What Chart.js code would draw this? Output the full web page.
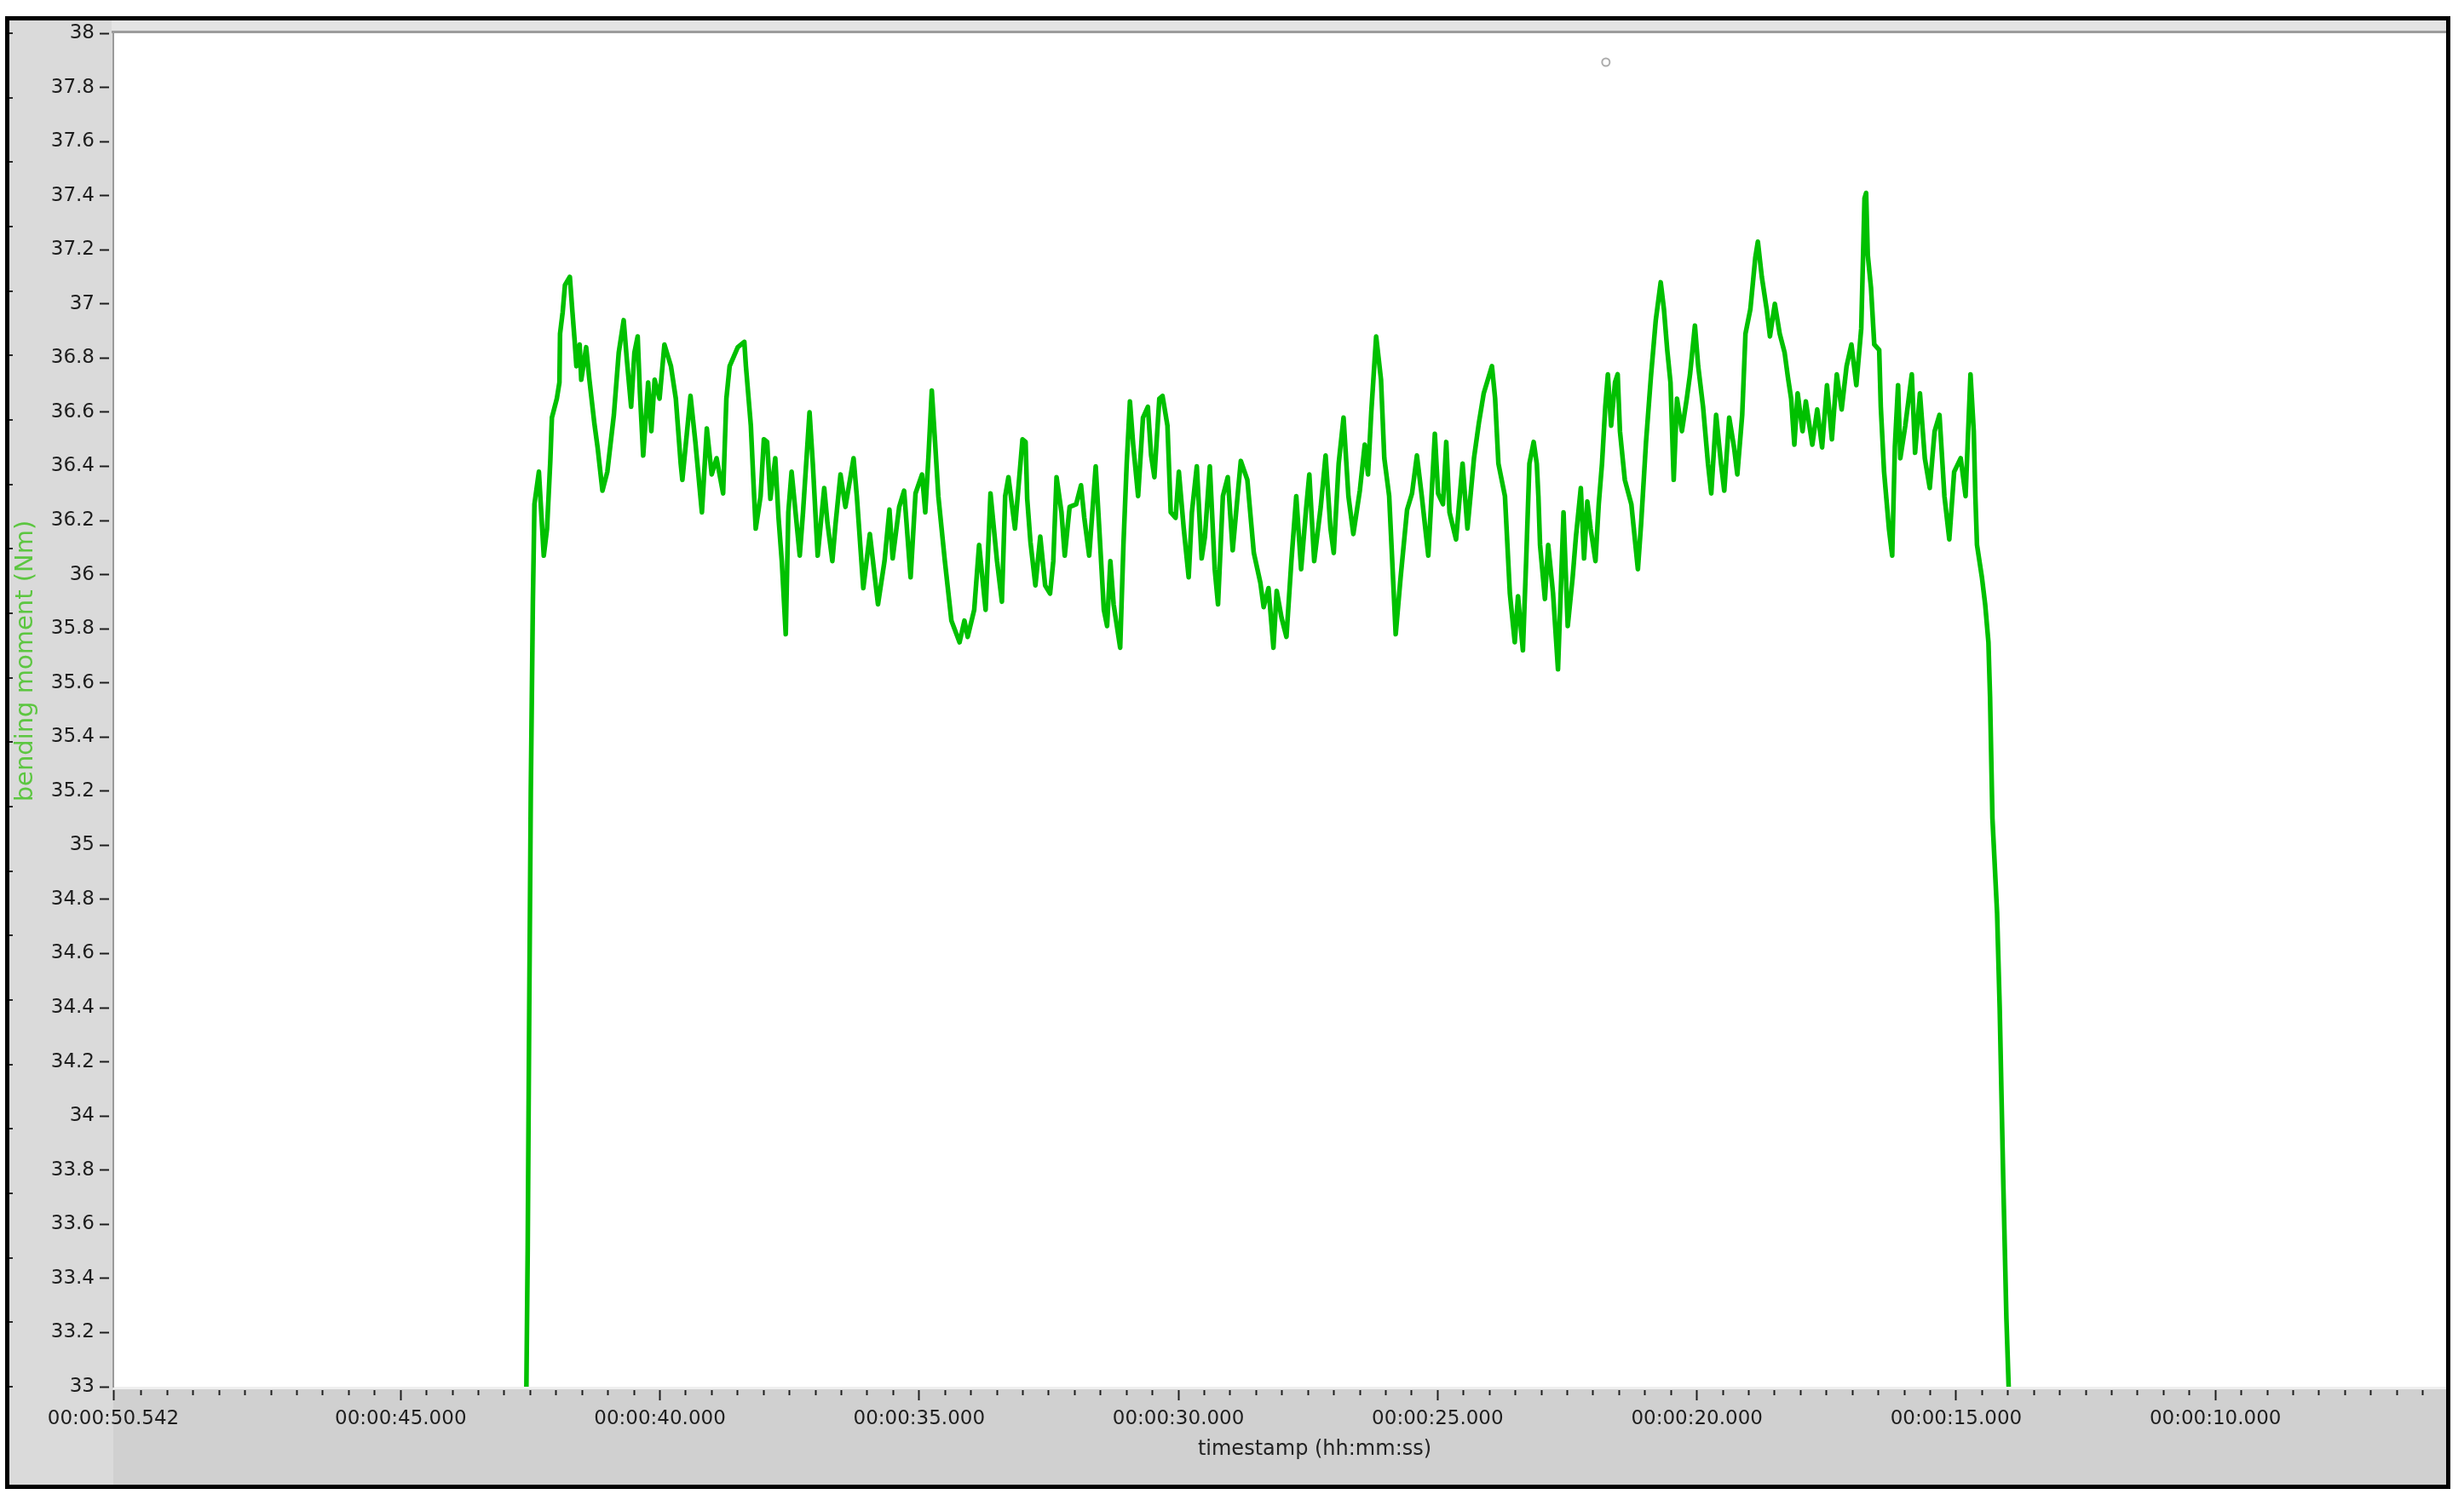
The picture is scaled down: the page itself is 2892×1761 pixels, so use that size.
<!DOCTYPE html>
<html><head><meta charset="utf-8">
<script src="https://cdn.jsdelivr.net/npm/chart.js@4.4.1/dist/chart.umd.min.js"></script>
<style>html,body{margin:0;padding:0;background:#fff;overflow:hidden}canvas{display:block}</style>
</head><body>
<canvas id="c" width="2892" height="1761"></canvas>
<script>
// time in seconds (hh:mm:ss axis, decreasing to the right)
const timeSec = [
42.58,42.55,42.52,42.49,42.45,42.42,
42.334,42.240,42.177,42.114,42.083,41.988,41.938,41.926,41.875,41.831,41.737,41.687,41.643,41.611,41.548,41.517,41.422,41.360,41.265,41.202,41.108,41.014,40.888,40.794,40.699,40.636,40.555,40.492,40.429,40.385,40.322,40.227,40.165,40.102,40.007,39.913,39.787,39.693,39.599,39.567,39.410,39.316,39.190,39.095,39.001,38.907,38.781,38.718,38.655,38.498,38.372,38.341,38.246,38.183,38.152,38.058,37.995,37.932,37.869,37.775,37.712,37.649,37.573,37.523,37.460,37.303,37.240,37.114,37.051,36.957,36.831,36.768,36.674,36.611,36.517,36.422,36.265,36.202,36.077,35.951,35.794,35.668,35.573,35.511,35.385,35.290,35.165,35.070,34.944,34.882,34.819,34.756,34.693,34.630,34.504,34.378,34.221,34.127,34.064,33.938,33.844,33.718,33.624,33.498,33.404,33.341,33.278,33.152,33.007,
32.947,32.916,32.853,32.758,32.664,32.570,32.475,32.413,32.350,32.255,32.192,32.098,31.972,31.878,31.815,31.721,31.595,31.532,31.438,31.375,31.312,31.249,31.123,31.060,30.997,30.935,30.872,30.777,30.683,30.589,30.526,30.463,30.368,30.306,30.211,30.148,30.054,29.991,29.897,29.802,29.740,29.645,29.551,29.488,29.394,29.299,29.236,29.142,29.048,28.953,28.859,28.796,28.670,28.545,28.419,28.356,28.262,28.167,28.104,28.010,27.916,27.821,27.727,27.633,27.538,27.475,27.381,27.255,27.161,27.067,27.004,26.909,26.815,26.721,26.626,26.501,26.406,26.343,26.280,26.186,26.092,26.029,25.935,25.809,25.714,25.589,25.494,25.400,25.306,25.180,25.054,24.991,24.897,24.834,24.771,24.645,24.519,24.425,24.299,24.205,24.111,23.953,23.891,23.828,23.702,23.607,23.513,23.450,23.356,23.293,23.230,23.148,
23.088,23.057,23.025,22.931,22.868,22.774,22.679,22.616,22.572,22.491,22.396,22.333,22.239,22.176,22.113,22.050,21.956,21.893,21.830,21.767,21.717,21.654,21.579,21.528,21.484,21.390,21.264,21.138,21.075,20.981,20.887,20.793,20.698,20.635,20.572,20.509,20.447,20.384,20.289,20.195,20.132,20.038,19.975,19.881,19.786,19.723,19.629,19.535,19.472,19.377,19.283,19.220,19.126,19.063,18.969,18.874,18.824,18.748,18.654,18.591,18.497,18.403,18.308,18.245,18.182,18.120,18.057,17.962,17.899,17.774,17.679,17.585,17.491,17.396,17.302,17.208,17.113,17.019,16.925,16.830,16.767,16.736,16.704,16.642,16.579,16.484,16.453,16.390,16.296,16.233,16.182,16.120,16.076,15.981,15.855,15.792,15.698,15.604,15.509,15.415,15.321,15.226,15.132,15.038,14.912,14.818,14.755,14.723,14.660,14.629,14.598,14.503,14.440,14.377,14.346,14.30,14.21,14.16,14.09,14.03,13.97
];
// bending moment (Nm)
const bendingMoment = [
32.9,33.5,34.4,35.2,35.9,36.26,
36.38,36.07,36.17,36.42,36.58,36.65,36.71,36.89,36.97,37.07,37.10,36.97,36.86,36.77,36.85,36.72,36.84,36.72,36.56,36.47,36.31,36.38,36.59,36.82,36.94,36.79,36.62,36.82,36.88,36.67,36.44,36.71,36.53,36.72,36.65,36.85,36.77,36.65,36.41,36.35,36.66,36.49,36.23,36.54,36.37,36.43,36.30,36.65,36.77,36.84,36.86,36.77,36.55,36.29,36.17,36.29,36.50,36.49,36.28,36.43,36.21,36.05,35.78,36.23,36.38,36.07,36.23,36.60,36.41,36.07,36.32,36.19,36.05,36.19,36.37,36.25,36.43,36.29,35.95,36.15,35.89,36.05,36.24,36.06,36.25,36.31,35.99,36.30,36.37,36.23,36.44,36.68,36.49,36.29,36.05,35.83,35.75,35.83,35.77,35.87,36.11,35.87,36.30,36.05,35.90,36.29,36.36,36.17,36.50,
36.49,36.28,36.12,35.96,36.14,35.96,35.93,36.05,36.36,36.23,36.07,36.25,36.26,36.33,36.21,36.07,36.40,36.19,35.87,35.81,36.05,35.89,35.73,36.11,36.41,36.64,36.48,36.29,36.58,36.62,36.44,36.36,36.65,36.66,36.55,36.23,36.21,36.38,36.17,35.99,36.23,36.40,36.06,36.14,36.40,36.02,35.89,36.29,36.36,36.09,36.29,36.42,36.35,36.08,35.97,35.88,35.95,35.73,35.94,35.84,35.77,36.05,36.29,36.02,36.24,36.37,36.05,36.25,36.44,36.17,36.08,36.41,36.58,36.29,36.15,36.31,36.48,36.37,36.60,36.88,36.72,36.43,36.29,35.78,35.99,36.24,36.30,36.44,36.29,36.07,36.52,36.30,36.26,36.49,36.23,36.13,36.41,36.17,36.43,36.56,36.67,36.77,36.65,36.41,36.29,35.93,35.75,35.92,35.72,36.05,36.41,36.49,
36.41,36.29,36.11,35.91,36.11,35.93,35.65,35.99,36.23,35.81,35.99,36.14,36.32,36.06,36.27,36.17,36.05,36.26,36.41,36.62,36.74,36.55,36.71,36.74,36.53,36.35,36.26,36.02,36.19,36.49,36.73,36.94,37.08,36.98,36.83,36.71,36.35,36.65,36.53,36.65,36.74,36.92,36.77,36.62,36.41,36.30,36.59,36.41,36.31,36.58,36.47,36.37,36.59,36.89,36.98,37.17,37.23,37.10,36.98,36.88,37.00,36.89,36.82,36.73,36.65,36.48,36.67,36.53,36.64,36.48,36.61,36.47,36.70,36.50,36.74,36.61,36.77,36.85,36.70,36.91,37.39,37.41,37.18,37.06,36.85,36.83,36.62,36.38,36.17,36.07,36.47,36.70,36.43,36.55,36.74,36.45,36.67,36.43,36.32,36.53,36.59,36.29,36.13,36.38,36.43,36.29,36.59,36.74,36.53,36.29,36.11,35.99,35.89,35.75,35.55,35.10,34.75,34.40,33.75,33.25,32.90
];
// cursor marker (small grey circle)
const markerTime = [21.755];
const markerValue = [37.893];

const yTickValues = [33,33.2,33.4,33.6,33.8,34,34.2,34.4,34.6,34.8,35,35.2,35.4,35.6,35.8,36,36.2,36.4,36.6,36.8,37,37.2,37.4,37.6,37.8,38];
const yTickLabels = ['33','33.2','33.4','33.6','33.8','34','34.2','34.4','34.6','34.8','35','35.2','35.4','35.6','35.8','36','36.2','36.4','36.6','36.8','37','37.2','37.4','37.6','37.8','38'];
const xMajorTicks = [50.542,45,40,35,30,25,20,15,10];
const xMajorLabels = ['00:00:50.542','00:00:45.000','00:00:40.000','00:00:35.000','00:00:30.000','00:00:25.000','00:00:20.000','00:00:15.000','00:00:10.000'];
const xAxisTitle = 'timestamp (hh:mm:ss)';
const yAxisTitle = 'bending moment (Nm)';
const X_MAX = 50.542, X_MIN = 5.55, Y_MIN = 33, Y_MAX = 38;

const FONT = 'DejaVu Sans';

const framePlugin = {
  id: 'frame',
  beforeDraw(chart) {
    const {ctx, chartArea: a} = chart;
    ctx.save();
    ctx.fillStyle = '#ffffff';
    ctx.fillRect(0, 0, chart.width, chart.height);
    // left axis panel
    ctx.fillStyle = '#dadada';
    ctx.fillRect(11, 24, a.left - 11, 1743 - 24);
    // top strip
    ctx.fillStyle = '#e4e4e4';
    ctx.fillRect(a.left - 2, 24, a.right - a.left + 2, a.top - 24);
    ctx.fillStyle = '#9c9c9c';
    ctx.fillRect(a.left - 2, a.top - 3, a.right - a.left + 2, 3);
    // bottom axis panel
    ctx.fillStyle = '#efefef';
    ctx.fillRect(a.left, a.bottom, a.right - a.left, 3);
    ctx.fillStyle = '#d0d0d0';
    ctx.fillRect(a.left, a.bottom + 3, a.right - a.left, 1743 - a.bottom - 3);
    ctx.restore();
  },
  afterDraw(chart) {
    const {ctx, chartArea: a} = chart;
    ctx.save();
    // small marks on inner left edge
    ctx.fillStyle = '#2a2a2a';
    for (let k = 0; k <= 21; k++) {
      const y = a.top + k * (a.bottom - a.top) / 21;
      ctx.fillRect(11, Math.round(y) - 1, 4, 2);
    }
    // axis titles
    ctx.fillStyle = '#222222';
    ctx.font = '24px "' + FONT + '"';
    ctx.textAlign = 'center';
    ctx.textBaseline = 'middle';
    ctx.fillText(xAxisTitle, 1543, 1702);
    ctx.translate(30, 776);
    ctx.rotate(-Math.PI / 2);
    ctx.fillStyle = '#5cc640';
    ctx.font = '29px "' + FONT + '"';
    ctx.fillText(yAxisTitle, 0, 0);
    ctx.setTransform(1, 0, 0, 1, 0, 0);
    // outer black frame
    ctx.strokeStyle = '#000000';
    ctx.lineWidth = 5;
    ctx.strokeRect(8.5, 21.5, 2865, 1724);
    ctx.restore();
  }
};

const lineData = timeSec.map((t, i) => ({x: t, y: bendingMoment[i]}));
const markerData = markerTime.map((t, i) => ({x: t, y: markerValue[i]}));

new Chart(document.getElementById('c'), {
  type: 'line',
  data: {
    datasets: [
      {
        data: lineData,
        borderColor: '#00c000',
        borderWidth: 5.5,
        pointRadius: 0,
        tension: 0,
        borderJoinStyle: 'round',
        fill: false
      },
      {
        data: markerData,
        showLine: false,
        pointRadius: 4.5,
        pointBorderWidth: 2,
        pointBorderColor: '#acacac',
        pointBackgroundColor: '#ffffff'
      }
    ]
  },
  options: {
    responsive: false,
    animation: false,
    devicePixelRatio: 1,
    layout: {padding: {left: 0, top: 39, right: 21, bottom: 0}},
    plugins: {legend: {display: false}, tooltip: {enabled: false}},
    scales: {
      x: {
        type: 'linear',
        reverse: true,
        min: X_MIN,
        max: X_MAX,
        afterBuildTicks(scale) {
          const ticks = [{value: X_MAX, major: true}];
          for (let k = 100; k >= 12; k--) {
            const v = k / 2;
            ticks.push({value: v, major: xMajorTicks.includes(v)});
          }
          scale.ticks = ticks;
        },
        afterFit(scale) { scale.height = 133; },
        grid: {
          display: true,
          drawOnChartArea: false,
          drawTicks: true,
          tickLength: 16,
          tickWidth: 2,
          tickColor: '#1e1e1e',
          tickBorderDash: (c) => (c.tick && c.tick.major) ? [0, 4, 12, 100] : [0, 4, 6, 100]
        },
        border: {display: false},
        ticks: {
          autoSkip: false,
          maxRotation: 0,
          minRotation: 0,
          padding: 8,
          color: '#1e1e1e',
          font: {family: FONT, size: 23},
          callback(value) {
            const i = xMajorTicks.findIndex(m => Math.abs(m - value) < 1e-6);
            return i >= 0 ? xMajorLabels[i] : '';
          }
        },
        title: {display: false}
      },
      y: {
        type: 'linear',
        min: Y_MIN,
        max: Y_MAX,
        afterBuildTicks(scale) {
          scale.ticks = yTickValues.map(v => ({value: v}));
        },
        afterFit(scale) { scale.width = 133; },
        grid: {
          display: true,
          drawOnChartArea: false,
          drawTicks: true,
          tickLength: 16,
          tickWidth: 2,
          tickColor: '#1e1e1e',
          tickBorderDash: [11, 100]
        },
        border: {display: true, color: '#9a9a9a', width: 2},
        ticks: {
          autoSkip: false,
          padding: 6,
          color: '#1e1e1e',
          font: {family: FONT, size: 23},
          callback(value, index) { return yTickLabels[index]; }
        },
        title: {display: false}
      }
    }
  },
  plugins: [framePlugin]
});
</script>
</body></html>
